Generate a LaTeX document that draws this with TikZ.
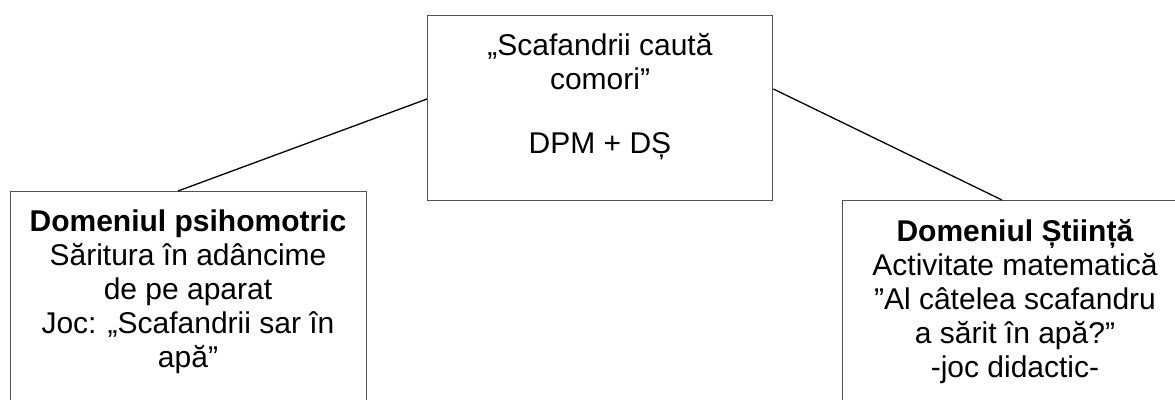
\documentclass[tikz,border=0pt]{standalone}
\usepackage{fontspec}
\setmainfont{Liberation Sans}
\begin{document}
\begin{tikzpicture}[x=1pt,y=-1pt,
  boxline/.style={draw=black!68, line width=1.4pt},
  link/.style={draw=black, line width=1.3pt},
  txt/.style={anchor=north, align=center, inner sep=0pt, font=\fontsize{30}{34}\selectfont}]
\useasboundingbox (0,0) rectangle (1175,399);
\clip (0,0) rectangle (1175,399);
% boxes
\node[boxline, anchor=north west, minimum width=345pt, minimum height=185pt, inner sep=0pt] (top) at (427,15) {};
\node[boxline, anchor=north west, minimum width=356pt, minimum height=260pt, inner sep=0pt] (left) at (10,191) {};
\node[boxline, anchor=north west, minimum width=356pt, minimum height=260pt, inner sep=0pt] (right) at (842,200) {};
% texts
\node[txt] (toptext) at (600,33) {„Scafandrii caută\\comori”\\[30pt]DPM + DȘ};
\node[txt] (lefttext) at (188,210) {\textbf{Domeniul psihomotric}\\Săritura în adâncime\\de pe aparat\\Joc: „Scafandrii sar în\\apă”};
\node[txt] (righttext) at (1015,219) {\textbf{Domeniul Știință}\\Activitate matematică\\”Al câtelea scafandru\\a sărit în apă?”\\-joc didactic-};
% connectors
\coordinate (lt) at ([yshift=-84pt]top.north west);
\coordinate (rt) at ([yshift=-74pt]top.north east);
\coordinate (lb) at ([xshift=168pt]left.north west);
\coordinate (rb) at ([xshift=160pt]right.north west);
\draw[link] (lt) -- (lb);
\draw[link] (rt) -- (rb);
\end{tikzpicture}
\end{document}
